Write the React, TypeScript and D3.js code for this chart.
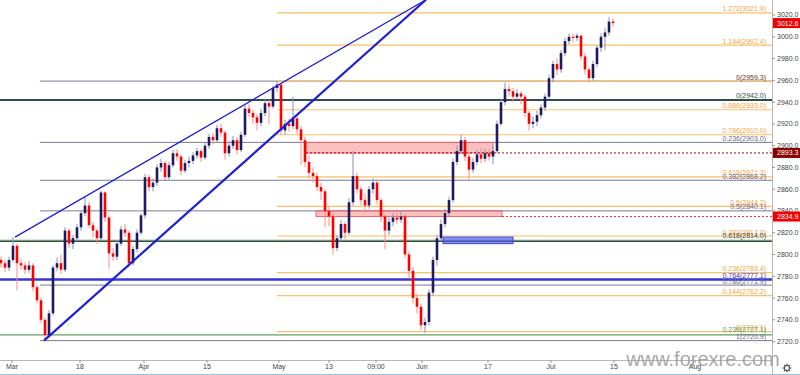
import * as d3 from "d3";

const W = 800;
const H = 375;
const plotRight = 772;
const plotBottom = 360;

// candles (open = previous close)
const firstOpen = 2795;
const closes = [
  2792, 2788, 2795, 2808, 2792, 2790, 2786, 2790, 2770, 2758,
  2740, 2726, 2746, 2788, 2792, 2786, 2822, 2810, 2815, 2825,
  2838, 2845, 2827, 2822, 2815, 2857, 2834, 2801, 2798, 2810,
  2823, 2820, 2792, 2805, 2820, 2836, 2871, 2862, 2866, 2880,
  2884, 2871, 2882, 2893, 2890, 2877, 2884, 2886, 2891, 2895,
  2889, 2900, 2908, 2905, 2916, 2912, 2893, 2900, 2905, 2896,
  2910, 2934, 2930, 2926, 2921, 2930, 2939, 2936, 2953, 2956,
  2914, 2920, 2918, 2925, 2915, 2905, 2885, 2875, 2872, 2862,
  2858, 2840, 2835, 2806, 2815, 2828, 2820, 2848, 2872, 2860,
  2850, 2845, 2860, 2866, 2850, 2835, 2822, 2830, 2834, 2832,
  2835, 2800, 2785, 2760, 2752, 2735, 2738, 2765, 2795, 2815,
  2828, 2838, 2850, 2885, 2895, 2905, 2890, 2878, 2885, 2892,
  2888, 2893, 2890, 2895, 2920, 2940, 2952, 2950, 2945, 2948,
  2945, 2930, 2920, 2922, 2928, 2935, 2945, 2962, 2975, 2970,
  2985, 2996, 3000, 2999, 3001, 2982, 2970, 2962, 2975, 2990,
  3000, 3004, 3014, 3012.6,
];
const highs = [
  2798, 2795, 2798, 2816, 2810, 2796, 2793, 2794, 2792, 2772,
  2760, 2742, 2749, 2790, 2797, 2800, 2825, 2824, 2818, 2828,
  2840, 2853, 2848, 2830, 2824, 2859, 2858, 2836, 2806, 2813,
  2826, 2828, 2822, 2808, 2823, 2838, 2874, 2873, 2870, 2883,
  2888, 2886, 2885, 2896, 2897, 2892, 2887, 2890, 2894, 2898,
  2897, 2903, 2911, 2912, 2919, 2920, 2914, 2904, 2909, 2908,
  2913, 2937, 2938, 2933, 2929, 2934, 2943, 2942, 2955, 2959.3,
  2958, 2924, 2925, 2945, 2928, 2918, 2908, 2891, 2880, 2875,
  2866, 2860, 2844, 2838, 2818, 2832, 2830, 2852, 2895, 2875,
  2862, 2856, 2863, 2870, 2868, 2852, 2837, 2834, 2838, 2840,
  2839, 2837, 2803, 2788, 2764, 2755, 2742, 2768, 2798, 2818,
  2832, 2842, 2853, 2888, 2900, 2910, 2908, 2893, 2889, 2896,
  2898, 2897, 2897, 2899, 2923, 2943, 2958, 2956, 2953, 2952,
  2950, 2947, 2932, 2927, 2932, 2938, 2948, 2965, 2978, 2980,
  2988, 2999, 3003, 3003, 3003, 3002, 2985, 2972, 2978, 2992,
  3003, 3008, 3018, 3017,
];
const lows = [
  2788, 2784, 2785, 2793, 2767, 2786, 2782, 2783, 2766, 2755,
  2737, 2721, 2724, 2744, 2785, 2782, 2784, 2806, 2805, 2812,
  2822, 2835, 2824, 2816, 2810, 2813, 2830, 2787, 2794, 2795,
  2808, 2816, 2788, 2790, 2802, 2818, 2833, 2858, 2858, 2863,
  2876, 2868, 2869, 2880, 2886, 2873, 2875, 2880, 2883, 2888,
  2885, 2887, 2897, 2901, 2903, 2908, 2887, 2890, 2897, 2892,
  2894, 2908, 2926, 2920, 2914, 2918, 2927, 2920, 2934, 2949,
  2910, 2910, 2913, 2915, 2911, 2882, 2880, 2870, 2866, 2858,
  2850, 2825, 2826, 2800, 2803, 2812, 2814, 2818, 2845, 2856,
  2845, 2838, 2842, 2856, 2846, 2830, 2805, 2818, 2826, 2828,
  2829, 2797, 2778, 2755, 2746, 2731, 2728, 2735, 2762, 2790,
  2812, 2825, 2835, 2848, 2882, 2892, 2886, 2868, 2875, 2882,
  2884, 2885, 2886, 2883, 2893, 2918, 2937, 2945, 2940, 2942,
  2938, 2926, 2914, 2916, 2918, 2925, 2932, 2943, 2958, 2965,
  2967, 2982, 2993, 2995, 2996, 2978, 2966, 2958, 2960, 2972,
  2986, 2988, 3001, 3010,
];

// axes
const xTickLabels = ["Mar", "18", "Apr", "15", "May", "13", "09:00", "Jun", "17", "Jul", "15", "Aug"];
const xTickIdx = [2.75, 19.75, 35.75, 51.5, 69.5, 82, 93.75, 105.25, 121.75, 137.5, 153.25, 173.5];
const yTicks = [2720, 2740, 2760, 2780, 2800, 2820, 2840, 2860, 2880, 2900, 2920, 2940, 2960, 2980, 3000, 3020];

// fibonacci levels
const orangeLevels = ["1.272", "1.144", "1", "0.886", "0.786", "0.618", "0.5", "0.382", "0.236", "0.144", "0"];
const orangeValues = [3021.9, 2992.4, 2959.3, 2933.0, 2910.0, 2871.3, 2844.2, 2817.0, 2783.4, 2762.2, 2729.1];
const greyLevels = ["0", "0.236", "0.382", "0.5", "0.618", "0.786", "1"];
const greyValues = [2959.3, 2903.0, 2868.2, 2840.1, 2812.0, 2771.9, 2720.9];
const greenLevels = ["0.618", "0.236"];
const greenValues = [2814.0, 2727.1];
const darkLevel = ["0", 2942.0] as const;
const blueLevel = ["0.764", 2777.1] as const;
const orangeStart = 69;
const greyStart = 9.75;

// zones
const redZoneTop = [2903.0, 2840.1];
const redZoneBottom = [2893.3, 2834.9];
const redZoneFrom = [76.25, 78.75];
const redZoneTo = [123, 125.25];
const blueZone = [2816.0, 2810.0];
const blueZoneIdx = [110.5, 128];

// trendlines [index, price]
const upperTrend = [[3.5, 2816], [106.25, 3034]];
const lowerTrend = [[10.75, 2720.9], [106.25, 3034]];

// price tags
const tagValues = [3012.6, 2893.3, 2834.9];
const tagColors = ["#f20000", "#8b0000", "#f20000"];

const ORANGE = "#fdc06a";
const ORANGE_TXT = "#f5a43a";
const GREY = "#7a7a98";
const GREY_TXT = "#6a6a8a";
const FONT = "'Liberation Sans', Arial, sans-serif";

export default function App() {
  const x = d3.scaleLinear().domain([0, closes.length - 1]).range([1, 613]);
  const y = d3.scaleLinear().domain([2703.1, 3033.8]).range([plotBottom, 0]);
  const line = d3.line<number[]>().x((d) => x(d[0])).y((d) => y(d[1]));

  const label = (txt: string, v: number, color: string, key: string) => (
    <text key={key} x={766} y={y(v) - 1.5} textAnchor="end" fontSize={7} fill={color} fontFamily={FONT}>
      {txt}
    </text>
  );

  return (
    <div style={{ position: "absolute", left: 0, top: 0 }}>
      <svg width={W} height={H} viewBox={`0 0 ${W} ${H}`} style={{ display: "block", background: "#fff" }}>
        <defs>
          <clipPath id="plot">
            <rect x={0} y={0} width={plotRight} height={plotBottom} />
          </clipPath>
        </defs>
        <rect width={W} height={H} fill="#fff" />

        <g clipPath="url(#plot)">
          {/* grey retracement */}
          {greyValues.map((v, i) => (
            <line key={"g" + i} x1={x(greyStart)} x2={plotRight} y1={y(v)} y2={y(v)} stroke={GREY} strokeWidth={1} />
          ))}
          {/* orange extension */}
          {orangeValues.map((v, i) => (
            <line key={"o" + i} x1={x(orangeStart)} x2={plotRight} y1={y(v)} y2={y(v)} stroke={ORANGE} strokeWidth={1.2} />
          ))}
          {/* green lines */}
          {greenValues.map((v, i) => (
            <line key={"gr" + i} x1={0} x2={plotRight} y1={y(v) + 1} y2={y(v) + 1} stroke="#5fa060" strokeWidth={1.2} />
          ))}
          <line x1={0} x2={plotRight} y1={y(greyValues[4])} y2={y(greyValues[4])} stroke="#3a4a48" strokeWidth={1.2} />
          <line x1={0} x2={plotRight} y1={y(darkLevel[1])} y2={y(darkLevel[1])} stroke="#2f4f46" strokeWidth={2} />
          <line x1={0} x2={plotRight} y1={y(blueLevel[1])} y2={y(blueLevel[1])} stroke="#3535e0" strokeWidth={2.4} />

          {/* zones */}
          {redZoneTop.map((v, i) => (
            <rect
              key={"rz" + i}
              x={x(redZoneFrom[i])}
              y={y(v)}
              width={x(redZoneTo[i]) - x(redZoneFrom[i])}
              height={y(redZoneBottom[i]) - y(v)}
              fill="rgba(245,90,90,0.38)"
              stroke="#ea6a6a"
              strokeWidth={1}
            />
          ))}
          <line x1={x(redZoneFrom[0])} x2={plotRight} y1={y(tagValues[1])} y2={y(tagValues[1])} stroke="#a00000" strokeWidth={1} strokeDasharray="2,2" />
          <line x1={x(redZoneTo[1])} x2={plotRight} y1={y(tagValues[2])} y2={y(tagValues[2])} stroke="#f03030" strokeWidth={1} strokeDasharray="2,2" />
          <rect
            x={x(blueZoneIdx[0])}
            y={y(blueZone[0])}
            width={x(blueZoneIdx[1]) - x(blueZoneIdx[0])}
            height={y(blueZone[1]) - y(blueZone[0])}
            fill="rgba(80,90,240,0.65)"
            stroke="#3b44dd"
            strokeWidth={1}
          />

          {/* candles */}
          {closes.map((c, i) => {
            const o = i === 0 ? firstOpen : closes[i - 1];
            const up = c >= o;
            const cx = x(i);
            const top = y(Math.max(o, c));
            const bh = Math.max(1, Math.abs(y(o) - y(c)));
            return (
              <g key={"c" + i}>
                <line x1={cx} x2={cx} y1={y(highs[i])} y2={y(lows[i])} stroke={up ? "#8e8eb8" : "#ff8a8a"} strokeWidth={1} />
                <rect x={cx - 1.3} y={top} width={2.6} height={bh} fill={up ? "#1d1b5e" : "#ff0000"} />
              </g>
            );
          })}

          {/* trendlines */}
          <path d={line(upperTrend) ?? ""} fill="none" stroke="#1f1fd6" strokeWidth={1.3} />
          <path d={line(lowerTrend) ?? ""} fill="none" stroke="#1f1fd6" strokeWidth={2.2} />
        </g>

        {/* level labels (the grey 0.618 label sits under the green one in the source) */}
        {orangeValues.map((v, i) => label(`${orangeLevels[i]}(${v.toFixed(1)})`, v, ORANGE_TXT, "ol" + i))}
        {greyValues.map((v, i) =>
          greyLevels[i] === "0.618" ? null : label(`${greyLevels[i]}(${v.toFixed(1)})`, v, GREY_TXT, "gl" + i)
        )}
        {greenValues.map((v, i) => label(`${greenLevels[i]}(${v.toFixed(1)})`, v, i === 0 ? "#3a4a48" : "#5a9a5a", "grl" + i))}
        {label(`${darkLevel[0]}(${darkLevel[1].toFixed(1)})`, darkLevel[1], "#2f4f46", "dl")}
        {label(`${blueLevel[0]}(${blueLevel[1].toFixed(1)})`, blueLevel[1], "#3535d0", "bl")}

        {/* y axis */}
        <line x1={plotRight + 0.5} x2={plotRight + 0.5} y1={0} y2={H} stroke="#b8b8b8" />
        {yTicks.map((t) => (
          <g key={"yt" + t}>
            <line x1={plotRight} x2={plotRight + 3} y1={y(t)} y2={y(t)} stroke="#999" />
            <text x={777} y={y(t)} dy="0.35em" fontSize={7} fill="#444" fontFamily={FONT}>
              {t.toFixed(1)}
            </text>
          </g>
        ))}

        {/* price tags */}
        {tagValues.map((v, i) => (
          <g key={"tag" + i}>
            <rect x={plotRight + 1} y={y(v) - 5} width={W - plotRight} height={10} fill={tagColors[i]} />
            <text x={777} y={y(v)} dy="0.35em" fontSize={7} fill="#fff" fontFamily={FONT}>
              {v.toFixed(1)}
            </text>
          </g>
        ))}

        {/* x axis */}
        <line x1={0} x2={plotRight} y1={plotBottom + 0.5} y2={plotBottom + 0.5} stroke="#b8b8b8" />
        {xTickLabels.map((t, i) => (
          <g key={"xt" + i}>
            <line x1={x(xTickIdx[i])} x2={x(xTickIdx[i])} y1={plotBottom} y2={plotBottom + 3} stroke="#999" />
            <text x={x(xTickIdx[i])} y={369} textAnchor="middle" fontSize={7} fill="#444" fontFamily={FONT}>
              {t}
            </text>
          </g>
        ))}

        {/* watermark */}
        <text x={703} y={366} textAnchor="middle" fontSize={20} fill="#8c8c8c" fillOpacity={0.75} fontFamily={FONT}>
          www.forexre.com
        </text>

        {/* settings gear */}
        <g transform="translate(787,368)" stroke="#555" fill="none">
          <circle r={2.6} strokeWidth={1.2} />
          {d3.range(8).map((k) => {
            const a = (k * Math.PI) / 4;
            return <line key={"gear" + k} x1={Math.cos(a) * 2.8} y1={Math.sin(a) * 2.8} x2={Math.cos(a) * 4.3} y2={Math.sin(a) * 4.3} strokeWidth={1.2} />;
          })}
        </g>

        <line x1={0} x2={W} y1={374.5} y2={374.5} stroke="#8ec5e8" />
      </svg>
    </div>
  );
}
